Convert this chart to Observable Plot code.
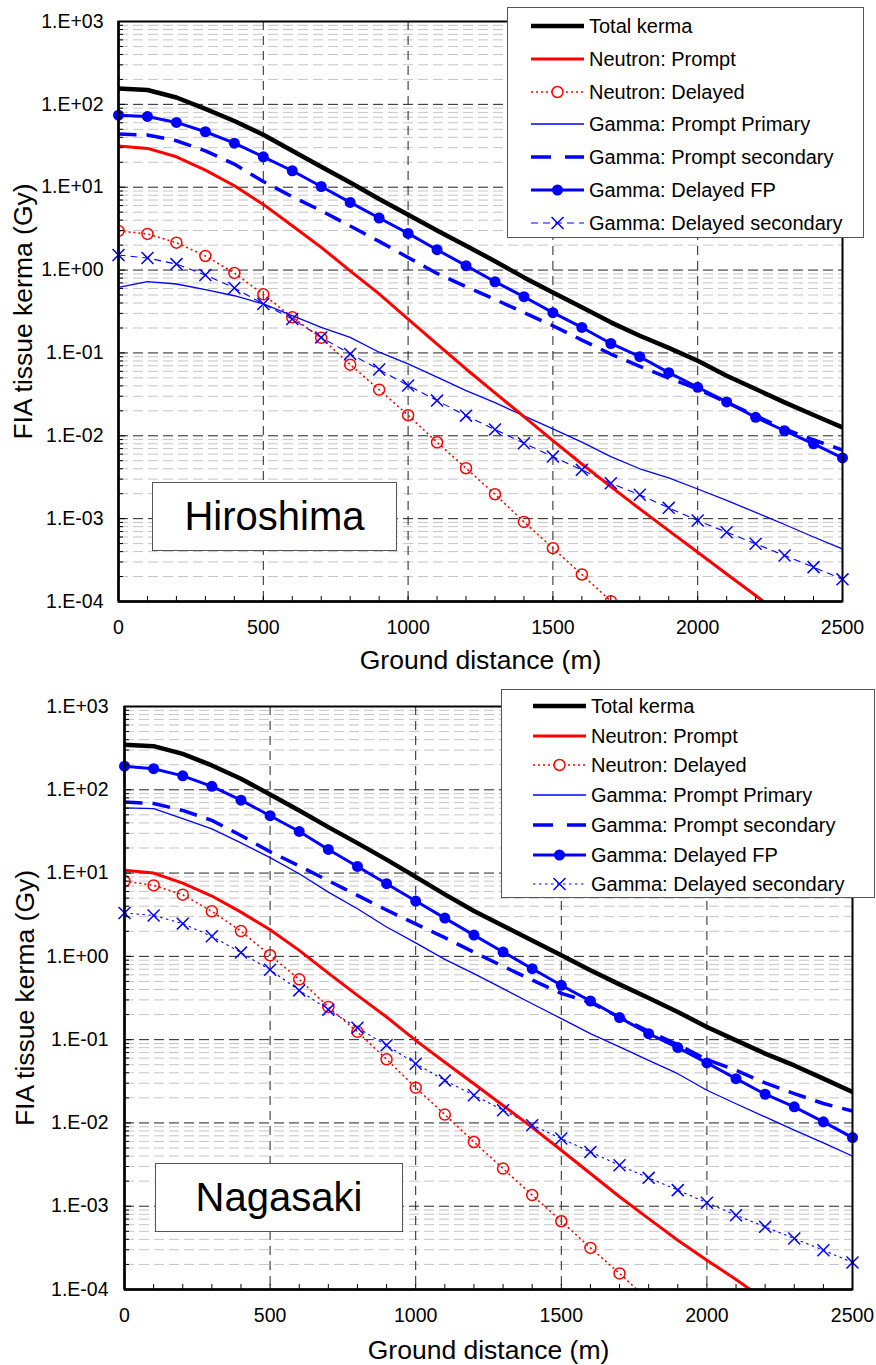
<!DOCTYPE html>
<html>
<head>
<meta charset="utf-8">
<script src="https://cdn.jsdelivr.net/npm/d3@7"></script>
<script src="https://cdn.jsdelivr.net/npm/@observablehq/plot@0.6"></script>
<style>
  body { margin: 0; background: #fff; font-family: "Liberation Sans", Arial, sans-serif; }
  .panel { position: relative; width: 876px; }
  .panel svg { display: block; }
  .legend { position: absolute; background: #fff; border: 1.5px solid #555; box-sizing: border-box; }
  .legend .row { position: absolute; left: 0; height: 24px; font-size: 20px; color: #000; white-space: nowrap; }
  .legend .row svg { position: absolute; top: 2px; }
  .legend .row span { position: absolute; top: 0; line-height: 24px; }
  .place { position: absolute; background: #fff; border: 1.5px solid #555; box-sizing: border-box;
           display: flex; align-items: center; justify-content: center; font-size: 40px; color: #000; }
</style>
</head>
<body>
<div id="chart"></div>
<script>
// ---------------- data ----------------
const distance = [0,100,200,300,400,500,600,700,800,900,1000,1100,1200,1300,1400,1500,1600,1700,1800,1900,2000,2100,2200,2300,2400,2500];

const seriesNames = ["Total kerma","Neutron: Prompt","Neutron: Delayed","Gamma: Prompt Primary","Gamma: Prompt secondary","Gamma: Delayed FP","Gamma: Delayed secondary"];

// Hiroshima (Gy)
const hiroshimaTotal = [155,149,121,88,63,43,27.5,17.7,11.4,7.2,4.66,3.0,1.97,1.28,0.816,0.538,0.355,0.234,0.161,0.115,0.0805,0.053,0.0367,0.0253,0.0178,0.0126];
const hiroshimaNeutronPrompt = [31.4,29.4,23.3,16.1,10.4,6.2,3.43,1.88,0.98,0.515,0.255,0.128,0.064,0.033,0.017,0.00873,0.00457,0.00243,0.00131,0.000717,0.000393,0.000215,0.000118,0.0000646,null,null];
const hiroshimaNeutronDelayed = [2.97,2.73,2.14,1.48,0.923,0.509,0.269,0.152,0.0722,0.036,0.0177,0.00835,0.00406,0.00197,0.000914,0.00044,0.000212,0.000101,null,null,null,null,null,null,null,null];
const hiroshimaGammaPromptPrimary = [0.618,0.724,0.679,0.58,0.49,0.39,0.282,0.204,0.154,0.102,0.0736,0.051,0.035,0.0251,0.0174,0.0121,0.0084,0.0056,0.0040,0.0031,0.00228,0.00166,0.00119,0.00085,0.0006,0.00043];
const hiroshimaGammaPromptSecondary = [43.8,42.7,36.4,27.5,19,11.7,7.7,5.2,3.4,2.22,1.42,0.91,0.63,0.443,0.307,0.213,0.143,0.097,0.0689,0.0498,0.0367,0.0253,0.0175,0.0121,0.0089,0.00674];
const hiroshimaGammaDelayedFP = [74,71.5,60.5,46.7,34,23.3,15.8,10.2,6.56,4.25,2.77,1.76,1.13,0.723,0.477,0.306,0.203,0.130,0.090,0.0578,0.0385,0.0256,0.0167,0.0115,0.0080,0.0054];
const hiroshimaGammaDelayedSecondary = [1.52,1.40,1.18,0.873,0.608,0.39,0.257,0.154,0.0973,0.063,0.0404,0.0266,0.0175,0.0119,0.00813,0.00561,0.00388,0.00267,0.00194,0.00135,0.000948,0.000686,0.000497,0.000359,0.00026,0.000185];

// Nagasaki (Gy)
const nagasakiTotal = [347,334,270,196,135.5,88,56.5,35.6,22.9,14.5,9.0,5.55,3.5,2.33,1.55,1.03,0.68,0.461,0.316,0.215,0.142,0.098,0.068,0.049,0.034,0.0236];
const nagasakiNeutronPrompt = [10.8,10.0,7.59,5.3,3.4,2.09,1.18,0.63,0.34,0.187,0.098,0.0535,0.0295,0.0162,0.00885,0.0047,0.00247,0.0013,0.00071,0.00039,0.000225,0.000132,0.0000745,null,null,null];
const nagasakiNeutronDelayed = [8.02,7.11,5.5,3.47,2.01,1.03,0.53,0.247,0.124,0.058,0.0265,0.0126,0.0059,0.00283,0.00136,0.00066,0.000316,0.000156,0.000074,null,null,null,null,null,null,null];
const nagasakiGammaPromptPrimary = [60.8,59.5,45,34,23,15.3,9.8,5.9,3.73,2.25,1.45,0.92,0.62,0.41,0.27,0.179,0.118,0.082,0.0565,0.039,0.0247,0.017,0.0118,0.0082,0.00575,0.004];
const nagasakiGammaPromptSecondary = [71.1,68.5,56.5,42.9,28.3,18.0,12.2,8.1,5.4,3.6,2.45,1.68,1.12,0.76,0.52,0.36,0.28,0.186,0.126,0.087,0.0575,0.0429,0.0302,0.0225,0.0171,0.0139];
const nagasakiGammaDelayedFP = [192,179,147,110,75,48.8,31.6,19.2,12.0,7.45,4.61,2.88,1.80,1.13,0.711,0.449,0.291,0.184,0.118,0.0802,0.0525,0.034,0.0221,0.0156,0.0103,0.00667];
const nagasakiGammaDelayedSecondary = [3.31,3.1,2.47,1.74,1.11,0.69,0.39,0.229,0.139,0.0855,0.0514,0.0324,0.0215,0.0142,0.00938,0.00649,0.00449,0.0031,0.00219,0.00156,0.0011,0.00078,0.000565,0.000409,0.000296,0.000211];

// axis ticks & labels
const yDecades = [1e-4,1e-3,1e-2,1e-1,1e0,1e1,1e2,1e3];
const yTickLabels = ["1.E-04","1.E-03","1.E-02","1.E-01","1.E+00","1.E+01","1.E+02","1.E+03"];
const xTickLabels = [0,500,1000,1500,2000,2500];
const xTitle = "Ground distance (m)";
const yTitle = "FIA tissue kerma (Gy)";
const placeNames = ["Hiroshima","Nagasaki"];

// ---------------- styles ----------------
const RED = "#ff0000", BLUE = "#0000ff";
function styleFor(name, delayedSecDash) {
  switch (name) {
    case "Total kerma": return {stroke: "#000", width: 4.5};
    case "Neutron: Prompt": return {stroke: RED, width: 3};
    case "Neutron: Delayed": return {stroke: RED, width: 1.6, dash: "2,3", marker: "ring"};
    case "Gamma: Prompt Primary": return {stroke: BLUE, width: 1.3};
    case "Gamma: Prompt secondary": return {stroke: BLUE, width: 3.5, dash: "18,10"};
    case "Gamma: Delayed FP": return {stroke: BLUE, width: 3, marker: "dot"};
    case "Gamma: Delayed secondary": return {stroke: BLUE, width: 1.1, dash: delayedSecDash, marker: "times"};
  }
}

const yMinor = [];
for (let e = -4; e < 3; e++) for (let k = 2; k <= 9; k++) yMinor.push(k * Math.pow(10, e));

function makePanel(cfg) {
  const rows = [];
  seriesNames.forEach((name, i) => cfg.values[i].forEach((v, j) => {
    if (v != null) rows.push({series: name, d: distance[j], v});
  }));
  const lineMarks = [], dotMarks = [];
  seriesNames.forEach(name => {
    const s = styleFor(name, cfg.delayedSecDash);
    const data = rows.filter(r => r.series === name);
    lineMarks.push(Plot.line(data, {x: "d", y: "v", stroke: s.stroke, strokeWidth: s.width,
      strokeDasharray: s.dash, strokeLinejoin: "round", strokeLinecap: s.dash ? "butt" : "round", clip: true}));
    if (s.marker === "ring") dotMarks.push(Plot.dot(data, {x: "d", y: "v", r: 5.5, stroke: s.stroke, fill: "none", strokeWidth: 1.5, clip: true}));
    if (s.marker === "dot") dotMarks.push(Plot.dot(data, {x: "d", y: "v", r: 5.5, fill: s.stroke, stroke: "none"}));
    if (s.marker === "times") dotMarks.push(Plot.dot(data, {x: "d", y: "v", r: 5.5, symbol: "times", stroke: s.stroke, strokeWidth: 1.5}));
  });
  const order = [6,2,3,4,1,5,0];
  const orderedLines = order.map(i => lineMarks[i]);

  const svg = Plot.plot({
    width: 876, height: cfg.height,
    marginLeft: cfg.ml, marginRight: cfg.mr, marginTop: cfg.mt, marginBottom: cfg.mb,
    style: {fontFamily: "'Liberation Sans', Arial, sans-serif", background: "white", overflow: "visible", color: "#000"},
    x: {domain: [0, 2500]},
    y: {type: "log", domain: [1e-4, 1e3]},
    marks: [
      Plot.ruleY(yMinor, {stroke: "#c4c4c4", strokeDasharray: "10,5", strokeWidth: 1}),
      Plot.ruleY(yDecades.slice(1, -1), {stroke: "#222", strokeDasharray: "10,5", strokeWidth: 1}),
      Plot.ruleX(xTickLabels.slice(1, -1), {stroke: "#222", strokeDasharray: "9,6", strokeWidth: 1}),
      ...orderedLines,
      ...dotMarks,
      Plot.frame({stroke: "#000", strokeWidth: 2}),
      Plot.ruleX([0], {stroke: "#000", strokeWidth: 2.5}),
      Plot.ruleY([1e-4], {stroke: "#000", strokeWidth: 2.5}),
      Plot.axisY({ticks: yMinor, tickSize: -5, tickFormat: () => "", label: null, strokeWidth: 1}),
      Plot.axisY({ticks: yDecades, tickSize: -7, tickFormat: () => "", label: null, strokeWidth: 1}),
      Plot.axisY({ticks: yDecades, tickSize: 0, tickPadding: cfg.yPad, label: null, fontSize: 19.5,
        tickFormat: d => yTickLabels[yDecades.indexOf(d)]}),
      Plot.axisX({ticks: distance, tickSize: -5, tickFormat: () => "", label: null, strokeWidth: 1}),
      Plot.axisX({ticks: xTickLabels, tickSize: 0, tickPadding: 19, label: null, fontSize: 19.5, tickFormat: d => String(d)}),
      Plot.text([yTitle], {frameAnchor: "left", textAnchor: "middle", lineAnchor: "middle", rotate: -90, dx: cfg.yTitleDx, fontSize: 26.5, text: d => d}),
      Plot.text([xTitle], {frameAnchor: "bottom", textAnchor: "middle", lineAnchor: "middle", dy: cfg.xTitleDy, fontSize: 26.5, text: d => d})
    ]
  });

  const wrap = document.createElement("div");
  wrap.className = "panel";
  wrap.style.height = cfg.height + "px";
  wrap.appendChild(svg);

  // legend
  const lg = document.createElement("div");
  lg.className = "legend";
  Object.assign(lg.style, {left: cfg.legend.left + "px", top: cfg.legend.top + "px", width: cfg.legend.width + "px", height: cfg.legend.height + "px"});
  seriesNames.forEach((name, i) => {
    const s = styleFor(name, cfg.delayedSecDash);
    const row = document.createElement("div");
    row.className = "row";
    row.style.top = (cfg.legend.firstRow + i * cfg.legend.step - 12) + "px";
    row.style.width = cfg.legend.width + "px";
    const W = cfg.legend.swatchW;
    const ns = "http://www.w3.org/2000/svg";
    const sw = document.createElementNS(ns, "svg");
    sw.setAttribute("width", W); sw.setAttribute("height", 20);
    sw.style.left = cfg.legend.swatchX + "px";
    const ln = document.createElementNS(ns, "line");
    ln.setAttribute("x1", 0); ln.setAttribute("x2", W); ln.setAttribute("y1", 10); ln.setAttribute("y2", 10);
    ln.setAttribute("stroke", s.stroke); ln.setAttribute("stroke-width", s.width);
    if (s.dash) ln.setAttribute("stroke-dasharray", name === "Gamma: Prompt secondary" ? "20,14" : s.dash);
    sw.appendChild(ln);
    if (s.marker === "ring" || s.marker === "dot") {
      const c = document.createElementNS(ns, "circle");
      c.setAttribute("cx", W / 2); c.setAttribute("cy", 10); c.setAttribute("r", 5.5);
      if (s.marker === "ring") { c.setAttribute("fill", "#fff"); c.setAttribute("stroke", s.stroke); c.setAttribute("stroke-width", 1.5); }
      else c.setAttribute("fill", s.stroke);
      sw.appendChild(c);
    }
    if (s.marker === "times") {
      const p = document.createElementNS(ns, "path");
      const m = W / 2;
      p.setAttribute("d", `M${m-6},4L${m+6},16M${m-6},16L${m+6},4`);
      p.setAttribute("stroke", s.stroke); p.setAttribute("stroke-width", 1.5);
      sw.appendChild(p);
    }
    row.appendChild(sw);
    const sp = document.createElement("span");
    sp.textContent = name;
    sp.style.left = cfg.legend.textX + "px";
    row.appendChild(sp);
    lg.appendChild(row);
  });
  wrap.appendChild(lg);

  // place label
  const pl = document.createElement("div");
  pl.className = "place";
  Object.assign(pl.style, {left: cfg.place.left + "px", top: cfg.place.top + "px", width: cfg.place.width + "px", height: cfg.place.height + "px"});
  pl.textContent = cfg.name;
  wrap.appendChild(pl);
  return wrap;
}

const chart = document.getElementById("chart");
chart.appendChild(makePanel({
  name: placeNames[0],
  values: [hiroshimaTotal, hiroshimaNeutronPrompt, hiroshimaNeutronDelayed, hiroshimaGammaPromptPrimary, hiroshimaGammaPromptSecondary, hiroshimaGammaDelayedFP, hiroshimaGammaDelayedSecondary],
  height: 680, ml: 118, mr: 34, mt: 21, mb: 79, yPad: 15, yTitleDx: -95, xTitleDy: 59,
  delayedSecDash: "7,5",
  legend: {left: 507, top: 7, width: 357, height: 231, firstRow: 18, step: 32.8, swatchX: 23, swatchW: 53, textX: 81},
  place: {left: 152, top: 482, width: 245, height: 69}
}));
chart.appendChild(makePanel({
  name: placeNames[1],
  values: [nagasakiTotal, nagasakiNeutronPrompt, nagasakiNeutronDelayed, nagasakiGammaPromptPrimary, nagasakiGammaPromptSecondary, nagasakiGammaDelayedFP, nagasakiGammaDelayedSecondary],
  height: 685, ml: 124, mr: 24, mt: 26, mb: 76, yPad: 16, yTitleDx: -99, xTitleDy: 61,
  delayedSecDash: "2.5,3.5",
  legend: {left: 501, top: 9, width: 374, height: 209, firstRow: 16, step: 29.7, swatchX: 31, swatchW: 53, textX: 89},
  place: {left: 155, top: 483, width: 248, height: 69}
}));
</script>
</body>
</html>
